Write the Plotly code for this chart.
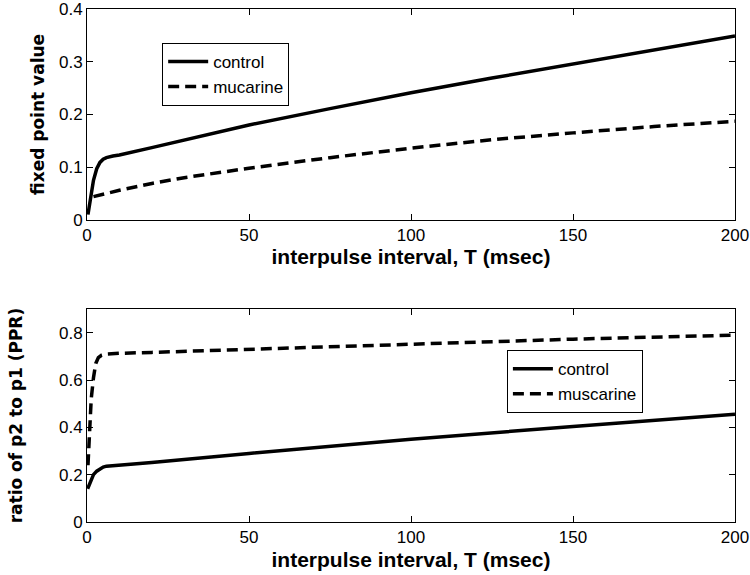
import plotly.graph_objects as go
from plotly.subplots import make_subplots

# top panel: fixed point value vs interpulse interval
t_ctrl_top = [0.3, 1, 2, 3, 4, 5, 6, 8, 10, 20, 30, 50, 75, 100, 125, 150, 175, 200]
fp_control = [0.01, 0.04, 0.075, 0.097, 0.109, 0.115, 0.118, 0.121, 0.123, 0.137, 0.151, 0.180, 0.211, 0.241, 0.269, 0.296, 0.323, 0.349]
t_musc_top = [2, 5, 10, 20, 30, 50, 75, 100, 125, 150, 175, 200]
fp_muscarine = [0.044, 0.049, 0.056, 0.069, 0.080, 0.098, 0.118, 0.136, 0.152, 0.165, 0.177, 0.187]

# bottom panel: paired pulse ratio
t_ctrl_bot = [0.2, 1, 2, 3, 4, 5, 6, 8, 10, 20, 50, 100, 150, 200]
ppr_control = [0.14, 0.17, 0.2, 0.215, 0.225, 0.232, 0.236, 0.238, 0.24, 0.252, 0.29, 0.35, 0.404, 0.455]
t_musc_bot = [0.3, 0.8, 1.3, 2, 2.7, 3.5, 4.5, 6, 8, 10, 20, 50, 100, 150, 200]
ppr_muscarine = [0.24, 0.38, 0.52, 0.61, 0.67, 0.695, 0.705, 0.71, 0.712, 0.713, 0.717, 0.73, 0.753, 0.773, 0.79]

x_ticks = [0, 50, 100, 150, 200]
y_ticks_top = [0, 0.1, 0.2, 0.3, 0.4]
y_ticks_bot = [0, 0.2, 0.4, 0.6, 0.8]

fig = make_subplots(rows=2, cols=1)

dash = "11px,6px"
fig.add_trace(go.Scatter(x=t_ctrl_top, y=fp_control, mode="lines", name="control",
                         line=dict(color="black", width=3.5), legend="legend"), row=1, col=1)
fig.add_trace(go.Scatter(x=t_musc_top, y=fp_muscarine, mode="lines", name="mucarine",
                         line=dict(color="black", width=3.5, dash=dash), legend="legend"), row=1, col=1)
fig.add_trace(go.Scatter(x=t_ctrl_bot, y=ppr_control, mode="lines", name="control",
                         line=dict(color="black", width=3.5), legend="legend2"), row=2, col=1)
fig.add_trace(go.Scatter(x=t_musc_bot, y=ppr_muscarine, mode="lines", name="muscarine",
                         line=dict(color="black", width=3.5, dash=dash), legend="legend2"), row=2, col=1)

tick_font = dict(family="Liberation Sans, Arial", size=17, color="black")
title_font = dict(family="Liberation Sans, Arial", size=21, color="black")
ytitle_font = dict(family="DejaVu Sans, Arial", size=17, color="black")

axis_common = dict(showline=True, linecolor="black", linewidth=1, mirror="ticks",
                   ticks="inside", ticklen=6, tickcolor="black", showgrid=False,
                   zeroline=False, tickfont=tick_font, automargin=False,
                   ticklabeloverflow="allow")

for r in (1, 2):
    fig.update_xaxes(range=[0, 200], tickvals=x_ticks, row=r, col=1,
                     title=dict(text="<b>interpulse interval, T (msec)</b>", font=title_font, standoff=5),
                     **axis_common)

fig.update_yaxes(range=[0, 0.4], tickvals=y_ticks_top, row=1, col=1,
                 title=dict(text="<b>fixed point value</b>", font=ytitle_font, standoff=9),
                 domain=[0.589, 1.0], **axis_common)
fig.update_yaxes(range=[0, 0.9], tickvals=y_ticks_bot, row=2, col=1,
                 title=dict(text="<b>ratio of p2 to p1 (PPR)</b>", font=ytitle_font, standoff=32),
                 domain=[0.0, 0.415], **axis_common)

legend_common = dict(bgcolor="white", bordercolor="black", borderwidth=1,
                     font=dict(family="Liberation Sans, Arial", size=17, color="black"),
                     xanchor="left", yanchor="top", tracegroupgap=0, itemwidth=40)

fig.update_layout(
    width=750, height=575,
    plot_bgcolor="white", paper_bgcolor="white",
    margin=dict(l=87, r=15, t=9, b=53),
    legend=dict(x=0.116, y=0.934, **legend_common),
    legend2=dict(x=0.648, y=0.335, **legend_common),
)

# drop the default page margin so the figure fills the window exactly
fig.write_html("out.html", config={"displayModeBar": False},
               post_script="document.body.style.margin='0';document.body.style.overflow='hidden';")
